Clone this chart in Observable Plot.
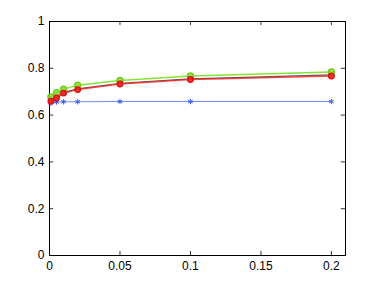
<!DOCTYPE html>
<html>
<head>
<meta charset="utf-8">
<script src="https://cdn.jsdelivr.net/npm/d3@7"></script>
<script src="https://cdn.jsdelivr.net/npm/@observablehq/plot@0.6"></script>
<style>
body { margin: 0; background: #fff; }
svg { font-family: "Liberation Sans", Arial, sans-serif; }
</style>
</head>
<body>
<div id="chart"></div>
<script>
const xs = [0.001, 0.005, 0.01, 0.02, 0.05, 0.1, 0.2];
const blueVals = [0.652, 0.656, 0.657, 0.657, 0.658, 0.658, 0.658];
const greenVals = [0.677, 0.696, 0.711, 0.728, 0.748, 0.767, 0.784];
const redVals = [0.659, 0.673, 0.694, 0.709, 0.733, 0.752, 0.767];
const blackVals = [0.662, 0.678, 0.697, 0.712, 0.736, 0.755, 0.772];
const xTicks = [0, 0.05, 0.1, 0.15, 0.2];
const yTicks = [0, 0.2, 0.4, 0.6, 0.8, 1];

const mk = vals => xs.map((x, i) => ({x, y: vals[i]}));
const blue = mk(blueVals), green = mk(greenVals), red = mk(redVals), black = mk(blackVals);

const fmt = d => d === 0 ? "0" : d === 1 ? "1" : String(d);

const chart = Plot.plot({
  width: 382,
  height: 287,
  marginLeft: 49,
  marginRight: 37,
  marginTop: 21,
  marginBottom: 32,
  style: {fontSize: "12px", fontFamily: "Liberation Sans, Arial, sans-serif", color: "#000"},
  x: {domain: [0, 0.21]},
  y: {domain: [0, 1]},
  marks: [
    Plot.axisX(xTicks, {tickSize: 0, tickPadding: 6, tickFormat: fmt, label: null, fontSize: 12}),
    Plot.axisY(yTicks, {tickSize: 0, tickPadding: 5, tickFormat: fmt, label: null, fontSize: 12}),
    Plot.ruleX(xTicks, {x: d => d, y1: 0, y2: 0.017, stroke: "#000", strokeWidth: 0.8}),
    Plot.ruleX(xTicks, {x: d => d, y1: 1, y2: 0.983, stroke: "#000", strokeWidth: 0.8}),
    Plot.ruleY(yTicks, {y: d => d, x1: 0, x2: 0.003, stroke: "#000", strokeWidth: 0.8}),
    Plot.ruleY(yTicks, {y: d => d, x1: 0.21, x2: 0.207, stroke: "#000", strokeWidth: 0.8}),
    Plot.frame({stroke: "#000", strokeWidth: 1}),
    Plot.line(blue, {x: "x", y: "y", stroke: "#4d6fff", strokeWidth: 1, strokeOpacity: 0.8}),
    Plot.dot(blue, {x: "x", y: "y", symbol: "asterisk", r: 2.5, stroke: "#3355ff", strokeWidth: 1}),
    Plot.line(black, {x: "x", y: "y", stroke: "#333", strokeWidth: 1.2, strokeOpacity: 0.8}),
    Plot.line(green, {x: "x", y: "y", stroke: "#66dd00", strokeWidth: 1.5, strokeOpacity: 0.8}),
    Plot.dot(green, {x: "x", y: "y", r: 3, fill: "#88dd33", stroke: "#77cc22", fillOpacity: 0.85}),
    Plot.line(red, {x: "x", y: "y", stroke: "#ff1a1a", strokeWidth: 1.5, strokeOpacity: 0.8}),
    Plot.dot(red, {x: "x", y: "y", r: 2.7, fill: "#ee2222", stroke: "#dd1111", fillOpacity: 0.85})
  ]
});
document.getElementById("chart").appendChild(chart);
</script>
</body>
</html>
